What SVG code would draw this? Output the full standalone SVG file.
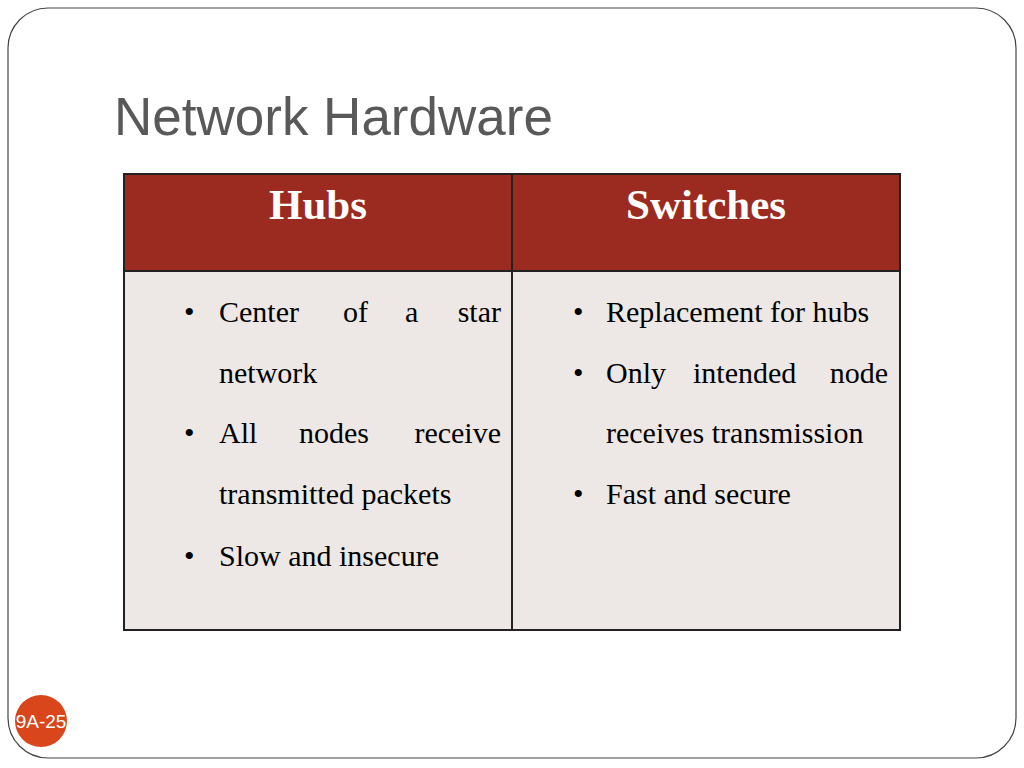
<svg xmlns="http://www.w3.org/2000/svg" width="1024" height="768" viewBox="0 0 1024 768">
<style>
.body{font-family:"Liberation Serif","Times New Roman",serif;font-size:30px;fill:#000}
.head{font-family:"Liberation Serif","Times New Roman",serif;font-size:43px;font-weight:bold;fill:#fff}
.cell{stroke:#222;stroke-width:2}
</style>
<rect width="1024" height="768" fill="#fff"/>
<rect x="8" y="8" width="1008" height="750" rx="40" ry="40" fill="#fff" stroke="#444" stroke-width="1.2"/>
<text x="114" y="135" font-family="Liberation Sans, Arial, sans-serif" font-size="53" fill="#595959">Network Hardware</text>
<g id="table">
<rect class="cell" x="124" y="174" width="388" height="97" fill="#9B2B20"/>
<rect class="cell" x="512" y="174" width="388" height="97" fill="#9B2B20"/>
<rect class="cell" x="124" y="271" width="388" height="359" fill="#EDE8E5"/>
<rect class="cell" x="512" y="271" width="388" height="359" fill="#EDE8E5"/>
</g>
<g id="hubs">
<text class="head" x="318" y="219" text-anchor="middle">Hubs</text>
<g class="body">
<text x="184" y="322">•</text>
<text x="219" y="322">Center</text>
<text x="343" y="322">of</text>
<text x="405" y="322">a</text>
<text x="501" y="322" text-anchor="end">star</text>
<text x="219" y="383">network</text>
<text x="184" y="443">•</text>
<text x="219" y="443">All</text>
<text x="299" y="443">nodes</text>
<text x="501" y="443" text-anchor="end">receive</text>
<text x="219" y="504">transmitted packets</text>
<text x="184" y="566">•</text>
<text x="219" y="566">Slow and insecure</text>
</g>
</g>
<g id="switches">
<text class="head" x="706" y="219" text-anchor="middle">Switches</text>
<g class="body">
<text x="573" y="322">•</text>
<text x="606" y="322">Replacement for hubs</text>
<text x="573" y="383">•</text>
<text x="606" y="383">Only</text>
<text x="693" y="383">intended</text>
<text x="888" y="383" text-anchor="end">node</text>
<text x="606" y="443">receives transmission</text>
<text x="573" y="504">•</text>
<text x="606" y="504">Fast and secure</text>
</g>
</g>
<g id="badge">
<circle cx="41" cy="721" r="26" fill="#D9461C"/>
<text x="41" y="728" text-anchor="middle" font-family="Liberation Sans, Arial, sans-serif" font-size="19" fill="#fff">9A-25</text>
</g>
</svg>
